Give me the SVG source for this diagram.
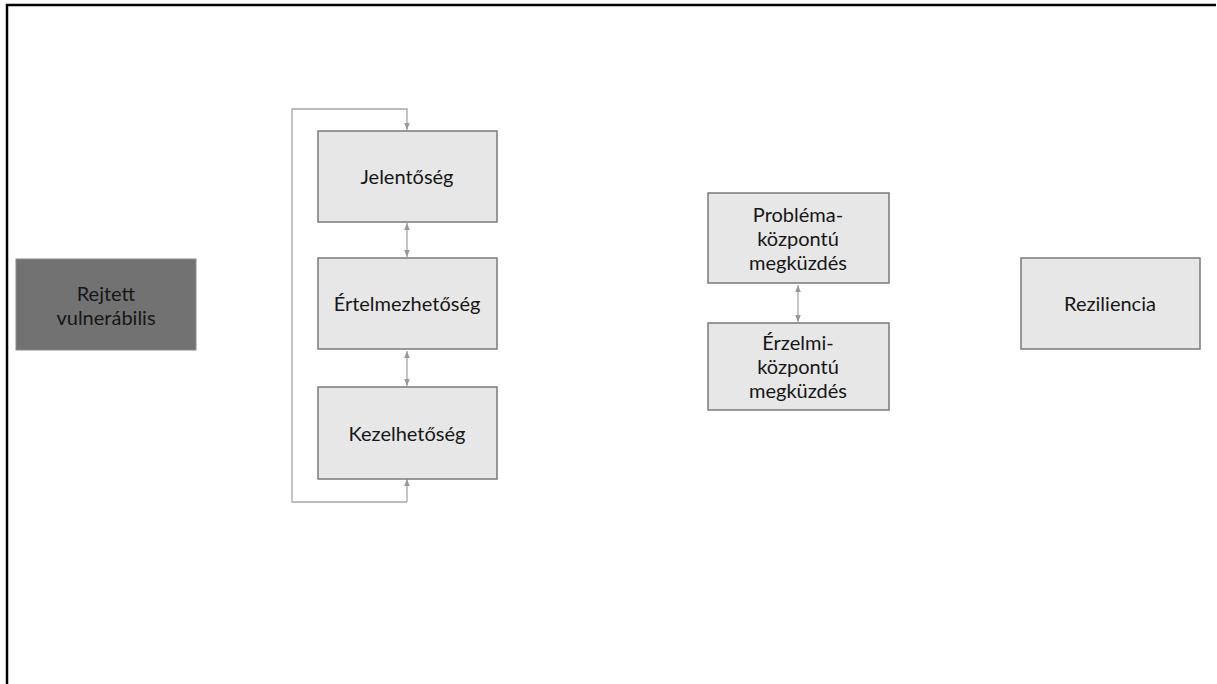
<svg xmlns="http://www.w3.org/2000/svg" width="1217" height="684" viewBox="0 0 1217 684">
<defs>
<style>
.box{fill:#e7e7e7;stroke:#7a7a7a;stroke-width:1.5}
.dark{fill:#727272;stroke:#8a8a8a;stroke-width:1}
.t{font-family:Lato,"Open Sans","Liberation Sans",sans-serif;font-size:20px;fill:#161616;text-anchor:middle}
.c{fill:none;stroke:#a6a6a6;stroke-width:1.3}
</style>
<marker id="a" viewBox="0 0 10 10" refX="10" refY="5" markerWidth="7" markerHeight="7" orient="auto-start-reverse" markerUnits="userSpaceOnUse">
<path d="M0,1 L10,5 L0,9 z" fill="#999"/>
</marker>
</defs>
<rect width="1217" height="684" fill="#fff"/>
<path d="M7,684 V5 H1216" fill="none" stroke="#000" stroke-width="2.5"/>
<g id="connectors">
<path class="c" d="M407,502 H292 V109 H407 V130" marker-end="url(#a)"/>
<path class="c" d="M407,502 V479" marker-end="url(#a)"/>
<path class="c" d="M407,223 V257" marker-start="url(#a)" marker-end="url(#a)"/>
<path class="c" d="M407,351 V386" marker-start="url(#a)" marker-end="url(#a)"/>
<path class="c" d="M798,285 V322" marker-start="url(#a)" marker-end="url(#a)"/>
</g>
<g id="rejtett">
<rect class="dark" x="16" y="259" width="180" height="91"/>
<text class="t" x="106" y="301">Rejtett</text>
<text class="t" x="106" y="325">vulnerábilis</text>
</g>
<g id="jelentoseg">
<rect class="box" x="318" y="131" width="179" height="91"/>
<text class="t" x="407" y="184">Jelentőség</text>
</g>
<g id="ertelmezhetoseg">
<rect class="box" x="318" y="258" width="179" height="91"/>
<text class="t" x="407" y="311">Értelmezhetőség</text>
</g>
<g id="kezelhetoseg">
<rect class="box" x="318" y="387" width="179" height="92"/>
<text class="t" x="407" y="441">Kezelhetőség</text>
</g>
<g id="problema">
<rect class="box" x="708" y="193" width="181" height="90"/>
<text class="t" x="798" y="222">Probléma-</text>
<text class="t" x="798" y="246">központú</text>
<text class="t" x="798" y="270">megküzdés</text>
</g>
<g id="erzelmi">
<rect class="box" x="708" y="323" width="181" height="87"/>
<text class="t" x="798" y="350">Érzelmi-</text>
<text class="t" x="798" y="374">központú</text>
<text class="t" x="798" y="398">megküzdés</text>
</g>
<g id="reziliencia">
<rect class="box" x="1021" y="258" width="179" height="91"/>
<text class="t" x="1110" y="311">Reziliencia</text>
</g>
</svg>
